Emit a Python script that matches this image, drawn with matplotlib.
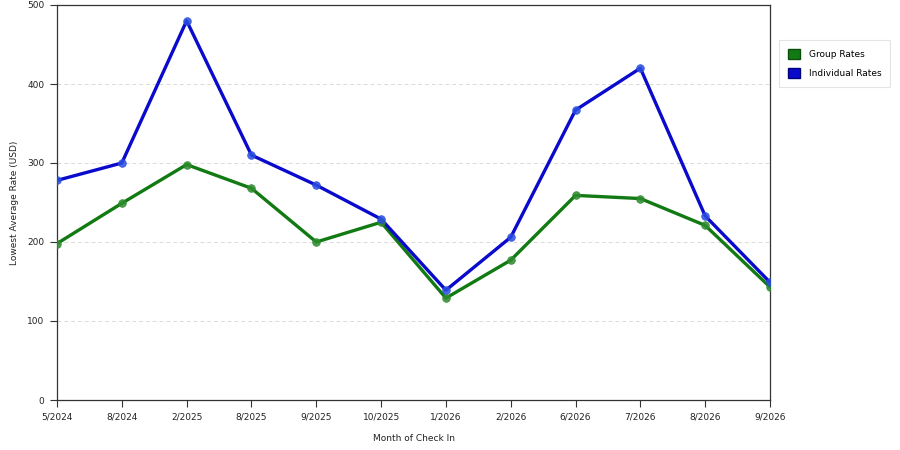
import matplotlib
matplotlib.use("Agg")
import matplotlib.pyplot as plt
from matplotlib.patches import Patch

months = ["5/2024", "8/2024", "2/2025", "8/2025", "9/2025", "10/2025",
          "1/2026", "2/2026", "6/2026", "7/2026", "8/2026", "9/2026"]
group_rates = [198, 249, 298, 268, 200, 225, 129, 177, 259, 255, 221, 143]
individual_rates = [278, 300, 480, 310, 272, 229, 139, 206, 367, 420, 233, 149]

green = "#127A12"
blue = "#0A0ACC"

fig = plt.figure(figsize=(9, 4.5), dpi=100)
ax = fig.add_axes([57/900, 1-400/450, (770-57)/900, (400-5)/450])

x = list(range(len(months)))
for vals, col, mcol in [(group_rates, green, "#2E8B2E"), (individual_rates, blue, "#2A4FE0")]:
    ax.plot(x, vals, color=col, lw=2.4, zorder=3, solid_joinstyle="round")
    ax.plot(x, vals, linestyle="none", marker="o", ms=5.5, mfc=mcol, mec=mcol,
            mew=0.6, alpha=0.85, zorder=4)

ax.set_xlim(0, len(months) - 1)
ax.set_ylim(0, 500)
ax.set_xticks(x)
ax.set_xticklabels(months)
ax.set_yticks([0, 100, 200, 300, 400, 500])
for y in [100, 200, 300, 400]:
    ax.axhline(y, color="#dadada", lw=0.7, ls=(0, (4, 3)), zorder=1)

ax.tick_params(axis="both", labelsize=6.5, length=5, width=0.8, color="#333333",
               labelcolor="#222222", pad=4)
for s in ax.spines.values():
    s.set_color("#333333")
    s.set_linewidth(0.9)

ax.set_xlabel("Month of Check In", fontsize=6.5, color="#222222", labelpad=9)
ax.set_ylabel("Lowest Average Rate (USD)", fontsize=6.5, color="#222222", labelpad=6)

handles = [Patch(facecolor=green, edgecolor="#0b4d0b", label="Group Rates"),
           Patch(facecolor=blue, edgecolor="#00007a", label="Individual Rates")]
leg = fig.legend(handles=handles, loc="upper left",
                 bbox_to_anchor=(779/900, 1-40/450), fontsize=6.5,
                 frameon=True, fancybox=False, handlelength=1.3, handleheight=1.3,
                 borderpad=1.0, labelspacing=1.0, handletextpad=1.0, borderaxespad=0)
leg.get_frame().set_edgecolor("#dddddd")
leg.get_frame().set_linewidth(0.8)

fig.savefig("out.png", dpi=100)
